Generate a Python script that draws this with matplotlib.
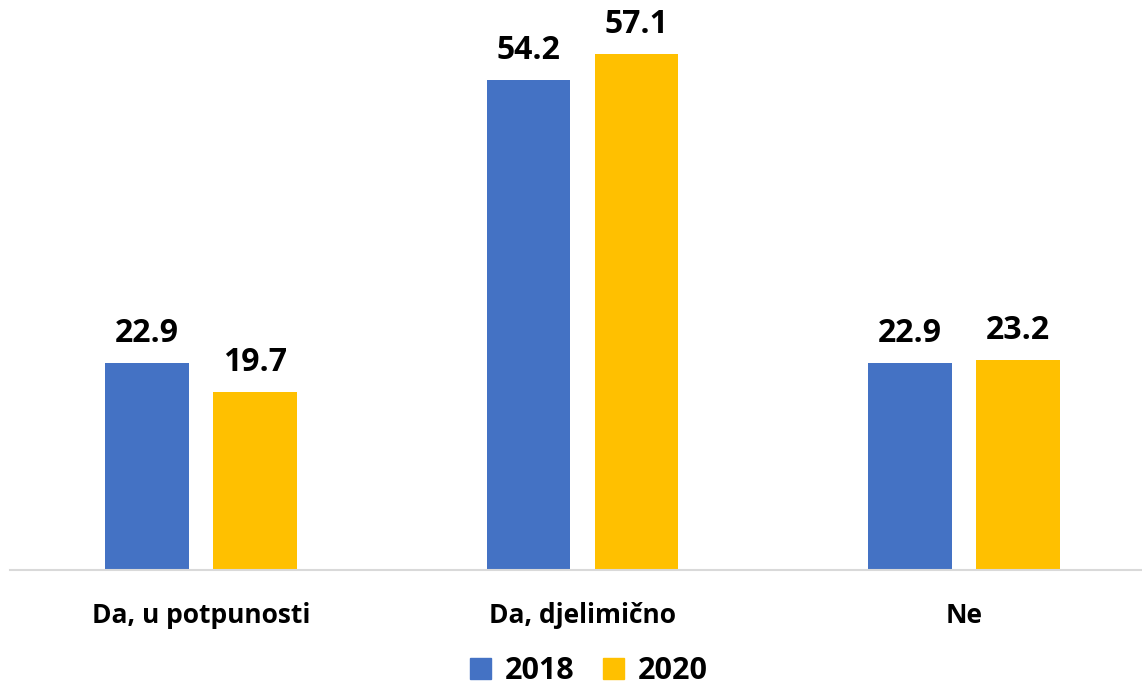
import matplotlib
matplotlib.use("Agg")
import matplotlib.pyplot as plt
import numpy as np
from matplotlib.patches import Patch

categories = ["Da, u potpunosti", "Da, djelimično", "Ne"]
series_names = ["2018", "2020"]
values_2018 = [22.9, 54.2, 22.9]
values_2020 = [19.7, 57.1, 23.2]
colors = ["#4472C4", "#FFC000"]

plt.rcParams['font.family'] = ['Open Sans', 'DejaVu Sans']

W, H = 1142, 688
fig = plt.figure(figsize=(W / 100, H / 100), dpi=100)
ax_left = 10 / W
ax_bottom = (H - 570) / H
ax_height = 570 / H
ax_width = (1155 - 10) / W
ax = fig.add_axes([ax_left, ax_bottom, ax_width, ax_height])

x = np.arange(len(categories))
width = 0.22
offset = 0.1415
for vals, name, col, off in [(values_2018, series_names[0], colors[0], -offset),
                             (values_2020, series_names[1], colors[1], offset)]:
    bars = ax.bar(x + off, vals, width, color=col, label=name, zorder=2)
    for b, v in zip(bars, vals):
        ax.annotate(f"{v:.1f}", (b.get_x() + b.get_width() / 2, v),
                    xytext=(0, 15), textcoords="offset points",
                    ha="center", va="baseline", fontsize=23, fontweight="bold",
                    color="black")

ax.set_xlim(-0.5, 2.5)
ax.set_ylim(0, 570 / 9.04)
for s in ["top", "right", "left"]:
    ax.spines[s].set_visible(False)
ax.spines["bottom"].set_color("#D9D9D9")
ax.spines["bottom"].set_linewidth(1.5)
ax.set_yticks([])
ax.set_xticks(x)
ax.set_xticklabels(categories, fontsize=19, fontweight="bold")
ax.tick_params(axis="x", length=0, pad=23)

handles = [Patch(color=colors[0], label=series_names[0]),
           Patch(color=colors[1], label=series_names[1])]
fig.legend(handles=handles, loc="center", bbox_to_anchor=(589 / W, 1 - 671 / H),
           ncol=2, frameon=False, prop={"size": 22, "weight": "bold"},
           handlelength=0.69, handleheight=0.69, handletextpad=0.46,
           columnspacing=0.92, borderpad=0, borderaxespad=0)

fig.savefig("out.png", dpi=100)
